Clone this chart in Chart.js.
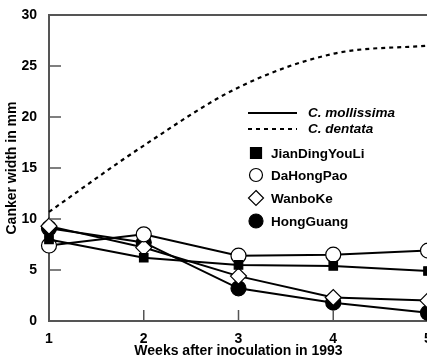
<!DOCTYPE html>
<html>
<head>
<meta charset="utf-8">
<script src="https://cdn.jsdelivr.net/npm/chart.js@4/dist/chart.umd.min.js"></script>
<style>
  html, body { margin: 0; padding: 0; background: #fff; overflow: hidden; }
  #wrap { width: 427px; height: 357px; overflow: hidden; }
</style>
</head>
<body>
<div id="wrap"><canvas id="canker" width="445" height="357"></canvas></div>
<script>
// weeks after inoculation
var weeks = [1, 2, 3, 4, 5];
// canker width in mm
var dentata = [10.7, 17.2, 22.9, 26.2, 27.0];
var jianDingYouLi = [8.0, 6.2, 5.5, 5.4, 4.9];
var daHongPao = [7.4, 8.5, 6.4, 6.5, 6.9];
var wanboKe = [9.3, 7.2, 4.4, 2.3, 2.0];
var hongGuang = [9.1, 7.7, 3.2, 1.8, 0.8];
var yTicks = [0, 5, 10, 15, 20, 25, 30];

var FONT = "'Liberation Sans', Arial, sans-serif";

function pts(vals) {
    return weeks.map(function (w, i) { return { x: w, y: vals[i] }; });
}

function series(label, vals, style, bg) {
    return {
        label: label,
        data: pts(vals),
        borderColor: '#000',
        borderWidth: 2,
        pointStyle: style,
        pointRadius: style === 'rect' ? 6 : (style === 'rectRot' ? 8 : 7.5),
        pointBackgroundColor: bg,
        pointBorderColor: '#000',
        pointBorderWidth: 1.2,
        tension: 0
    };
}

// inward ticks, top border and the hand made legend
var extras = {
    id: 'extras',
    afterDraw: function (chart) {
        var c = chart.ctx, a = chart.chartArea;
        var xs = chart.scales.x, ys = chart.scales.y;
        c.save();
        c.strokeStyle = '#555';
        c.lineWidth = 1.5;
        c.beginPath();
        yTicks.slice(1, -1).forEach(function (v) {
            var py = ys.getPixelForValue(v);
            c.moveTo(a.left, py); c.lineTo(a.left + 12, py);
        });
        weeks.slice(1).forEach(function (w) {
            var px = xs.getPixelForValue(w);
            c.moveTo(px, a.bottom); c.lineTo(px, a.bottom - 11);
        });
        c.stroke();
        c.lineWidth = 2;
        c.beginPath();
        c.moveTo(a.left, a.top); c.lineTo(a.right + 20, a.top);
        c.stroke();

        // legend: line types
        c.strokeStyle = '#000';
        c.lineWidth = 2;
        c.beginPath(); c.moveTo(248, 113); c.lineTo(297, 113); c.stroke();
        c.setLineDash([4, 4]);
        c.beginPath(); c.moveTo(248, 129); c.lineTo(297, 129); c.stroke();
        c.setLineDash([]);
        c.fillStyle = '#000';
        c.textBaseline = 'middle';
        c.font = 'italic bold 13.5px ' + FONT;
        c.fillText('C. mollissima', 308, 113);
        c.fillText('C. dentata', 308, 129);

        // legend: cultivars
        var rows = [
            { label: chart.data.datasets[1].label, y: 153, style: 'rect', fill: '#000' },
            { label: chart.data.datasets[2].label, y: 175, style: 'circle', fill: '#fff' },
            { label: chart.data.datasets[3].label, y: 198, style: 'rectRot', fill: '#fff' },
            { label: chart.data.datasets[4].label, y: 221, style: 'circle', fill: '#000' }
        ];
        c.font = 'bold 13.5px ' + FONT;
        rows.forEach(function (r) {
            c.fillStyle = r.fill;
            c.strokeStyle = '#000';
            c.lineWidth = 1.2;
            var cx = 256;
            c.beginPath();
            if (r.style === 'rect') {
                c.rect(cx - 5.5, r.y - 5.5, 11, 11);
            } else if (r.style === 'circle') {
                c.arc(cx, r.y, r.fill === '#000' ? 7 : 6.5, 0, Math.PI * 2);
            } else {
                c.moveTo(cx, r.y - 7.5); c.lineTo(cx + 7.5, r.y);
                c.lineTo(cx, r.y + 7.5); c.lineTo(cx - 7.5, r.y); c.closePath();
            }
            c.fill(); c.stroke();
            c.fillStyle = '#000';
            c.fillText(r.label, 271, r.y + 1);
        });
        c.restore();
    }
};

new Chart(document.getElementById('canker').getContext('2d'), {
    type: 'line',
    data: {
        datasets: [
            {
                label: 'C. dentata',
                data: pts(dentata),
                borderColor: '#000',
                borderWidth: 2.2,
                borderDash: [4, 4],
                pointRadius: 0,
                cubicInterpolationMode: 'monotone'
            },
            series('JianDingYouLi', jianDingYouLi, 'rect', '#000'),
            series('DaHongPao', daHongPao, 'circle', '#fff'),
            series('WanboKe', wanboKe, 'rectRot', '#fff'),
            series('HongGuang', hongGuang, 'circle', '#000')
        ]
    },
    options: {
        responsive: false,
        animation: false,
        clip: false,
        layout: { padding: { top: 15, right: 17, left: 0, bottom: 0 } },
        plugins: { legend: { display: false }, tooltip: { enabled: false } },
        scales: {
            x: {
                type: 'linear',
                min: 1, max: 5,
                grid: { display: false },
                border: { display: true, color: '#555', width: 2 },
                ticks: {
                    stepSize: 1, color: '#000', padding: 2,
                    font: { family: FONT, size: 14, weight: 'bold' }
                },
                title: {
                    display: true, text: 'Weeks after inoculation in 1993', color: '#000',
                    padding: { top: 0, bottom: -3 },
                    font: { family: FONT, size: 14, weight: 'bold' }
                },
                afterFit: function (s) { s.height = 36; }
            },
            y: {
                min: 0, max: 30,
                grid: { display: false },
                border: { display: true, color: '#555', width: 2 },
                afterBuildTicks: function (s) { s.ticks = yTicks.map(function (v) { return { value: v }; }); },
                ticks: {
                    color: '#000', padding: 4,
                    font: { family: FONT, size: 14, weight: 'bold' }
                },
                title: {
                    display: true, text: 'Canker width in mm', color: '#000',
                    padding: { top: 4, bottom: 0 },
                    font: { family: FONT, size: 14, weight: 'bold' }
                },
                afterFit: function (s) { s.width = 49; }
            }
        }
    },
    plugins: [extras]
});
</script>
</body>
</html>
